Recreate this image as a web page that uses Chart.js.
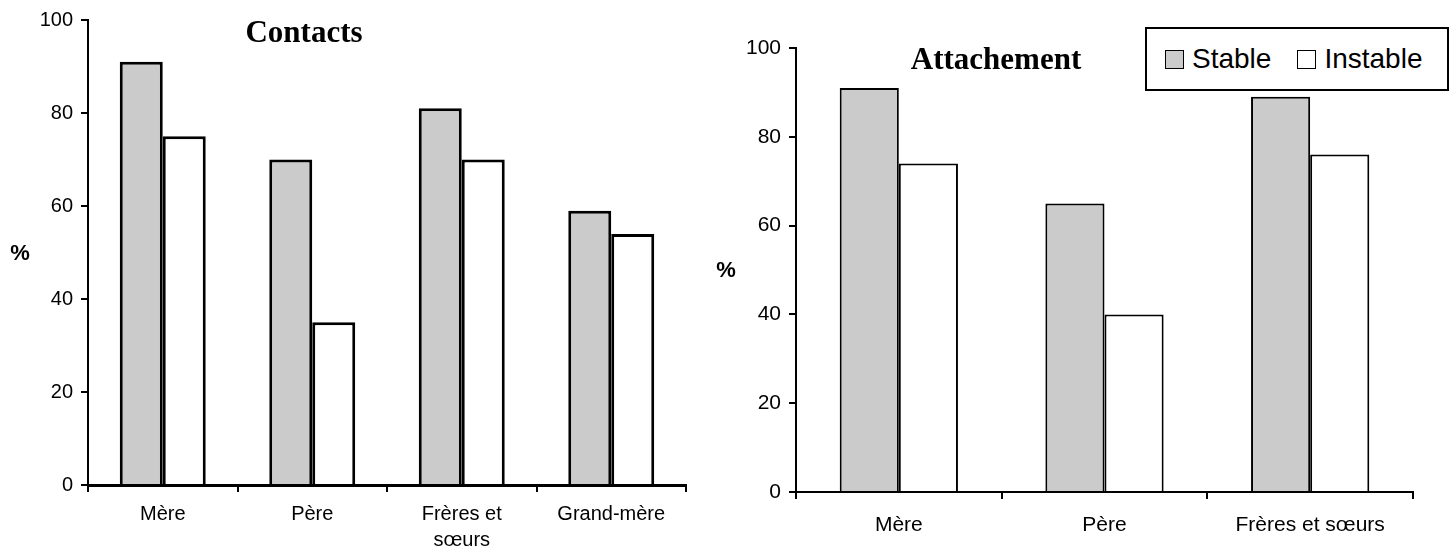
<!DOCTYPE html>
<html lang="fr">

<head>
    <meta charset="UTF-8">
    <title>Contacts et attachement</title>
    <style>
        body { margin: 0; background: #fff; width: 1456px; height: 550px; position: relative; overflow: hidden; font-family: "Liberation Sans", Arial, sans-serif; }
        canvas { position: absolute; top: 0; }
        #leftChart { left: 0; }
        #rightChart { left: 700px; }
        .title { position: absolute; font-family: "Liberation Serif", "Times New Roman", serif; font-weight: bold; font-size: 31px; transform: translate(-50%, -50%); white-space: nowrap; }
        .pct { position: absolute; font-weight: bold; font-size: 22px; transform: translate(-50%, -50%); }
        #legend { position: absolute; left: 1145px; top: 27px; width: 304px; height: 64px; border: 2px solid #000; background: #fff; display: flex; align-items: center; padding-left: 18px; box-sizing: border-box; }
        #legend .item { display: flex; align-items: center; font-size: 28px; margin-right: 26px; }
        #legend .box { width: 17px; height: 17px; border: 1.5px solid #000; margin-right: 8px; }
    </style>
</head>

<body>
    <canvas id="leftChart" width="700" height="550"></canvas>
    <canvas id="rightChart" width="756" height="550"></canvas>
    <div class="title" style="left:304px; top:32px;">Contacts</div>
    <div class="title" style="left:996px; top:59px;">Attachement</div>
    <div class="pct" style="left:20px; top:253px;">%</div>
    <div class="pct" style="left:726px; top:270px;">%</div>
    <div id="legend"></div>

    <script src="https://cdn.jsdelivr.net/npm/chart.js"></script>
    <script>
        // données
        const seriesNames = ["Stable", "Instable"];
        const seriesColors = ["#cbcbcb", "#ffffff"];

        const contactsLabels = ["Mère", "Père", ["Frères et", "sœurs"], "Grand-mère"];
        const contactsStable = [91, 70, 81, 59];
        const contactsInstable = [75, 35, 70, 54];

        const attachLabels = ["Mère", "Père", "Frères et sœurs"];
        const attachStable = [91, 65, 89];
        const attachInstable = [74, 40, 76];

        const yMin = 0;
        const yMax = 100;
        const yStep = 20;

        const makeChart = (id, labels, stable, instable, opt) => {
            const ctx = document.getElementById(id).getContext("2d");
            return new Chart(ctx, {
                type: "bar",
                data: {
                    labels: labels,
                    datasets: [{
                        label: seriesNames[0],
                        data: stable,
                        backgroundColor: seriesColors[0],
                        borderColor: "#000",
                        borderWidth: opt.bar,
                    }, {
                        label: seriesNames[1],
                        data: instable,
                        backgroundColor: seriesColors[1],
                        borderColor: "#000",
                        borderWidth: opt.bar,
                    }],
                },
                options: {
                    responsive: false,
                    animation: false,
                    devicePixelRatio: 1,
                    categoryPercentage: 0.575,
                    barPercentage: 1.0,
                    layout: { padding: opt.padding },
                    plugins: { legend: { display: false }, tooltip: { enabled: false } },
                    scales: {
                        x: {
                            grid: { offset: true, drawOnChartArea: false, drawTicks: true, tickLength: 7, color: "#000", lineWidth: 2 },
                            border: { color: "#000", width: opt.axis },
                            ticks: {
                                color: "#000",
                                maxRotation: 0,
                                autoSkip: false,
                                padding: opt.xPad,
                                font: { family: "Liberation Sans", size: opt.font, lineHeight: 1.3 },
                            },
                            afterFit: (s) => { s.height = opt.xHeight; },
                        },
                        y: {
                            min: yMin,
                            max: yMax,
                            grid: { drawOnChartArea: false, drawTicks: true, tickLength: 7, color: "#000", lineWidth: 2 },
                            border: { color: "#000", width: 2 },
                            ticks: {
                                stepSize: yStep,
                                color: "#000",
                                padding: 8,
                                font: { family: "Liberation Sans", size: opt.font },
                            },
                            afterFit: (s) => { s.width = opt.yWidth; },
                        },
                    },
                },
            });
        };

        makeChart("leftChart", contactsLabels, contactsStable, contactsInstable, {
            bar: 3, axis: 3, font: 20, xPad: 9, xHeight: 65, yWidth: 88,
            padding: { top: 20, right: 14, bottom: 0, left: 0 },
        });

        makeChart("rightChart", attachLabels, attachStable, attachInstable, {
            bar: 2, axis: 2, font: 21, xPad: 13, xHeight: 58, yWidth: 96,
            padding: { top: 48, right: 43, bottom: 0, left: 0 },
        });

        // légende
        const legend = document.getElementById("legend");
        seriesNames.forEach((name, i) => {
            const item = document.createElement("div");
            item.className = "item";
            const box = document.createElement("div");
            box.className = "box";
            box.style.background = seriesColors[i];
            const txt = document.createElement("span");
            txt.textContent = name;
            item.appendChild(box);
            item.appendChild(txt);
            legend.appendChild(item);
        });
    </script>
</body>

</html>
